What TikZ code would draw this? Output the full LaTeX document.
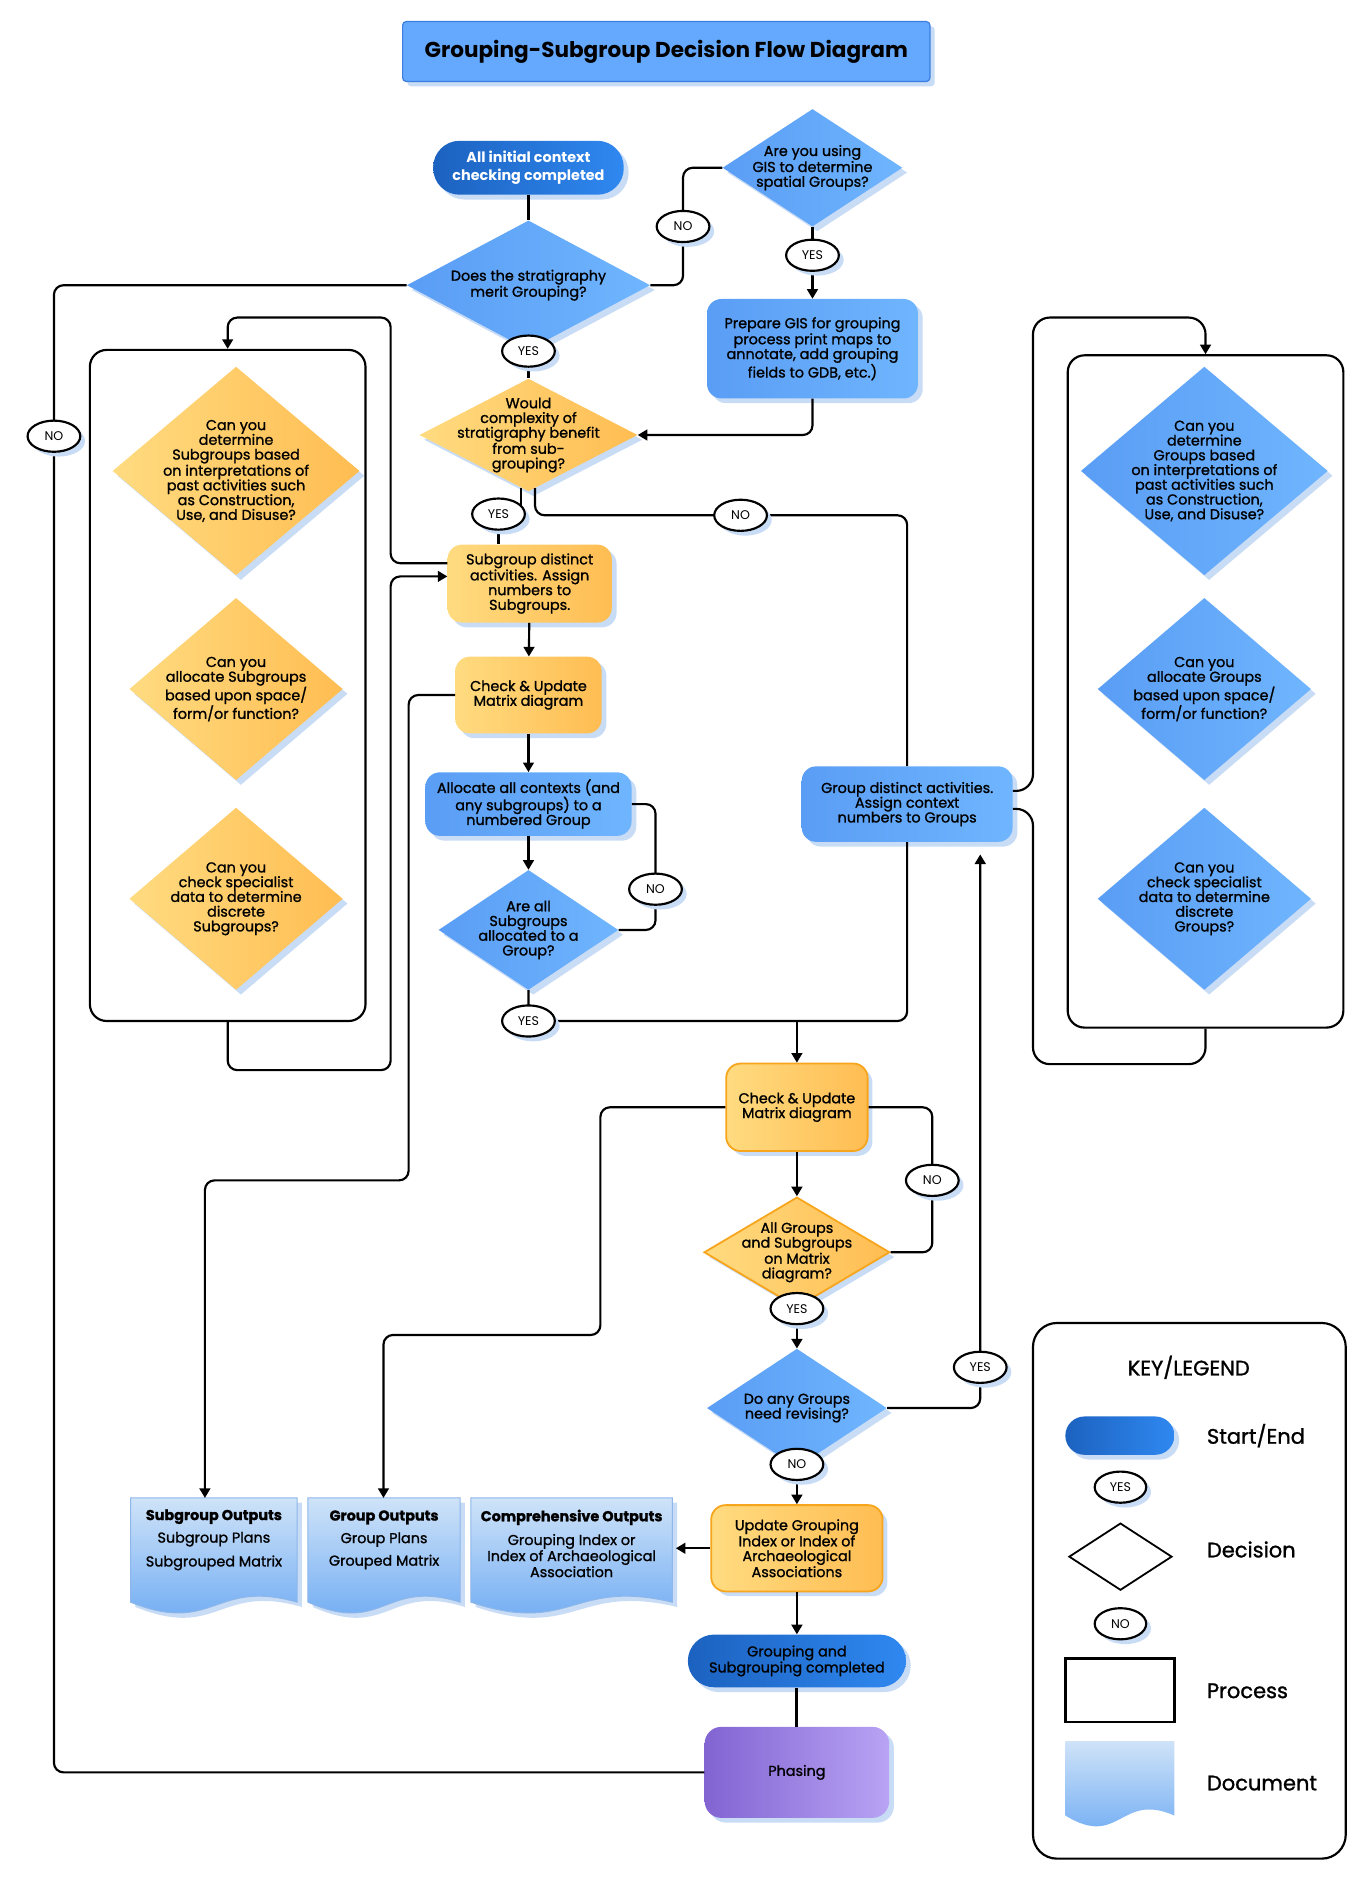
\documentclass[tikz,border=0pt]{standalone}
\usepackage{fontspec}
\setmainfont{Poppins}
\newfontfamily\medfont{Poppins}[FakeBold=1.2]
\usetikzlibrary{shapes.geometric, arrows.meta, shadows}

\definecolor{blueL}{HTML}{5A9DF5}
\definecolor{blueR}{HTML}{6FB5FE}
\definecolor{darkL}{HTML}{1C62C0}
\definecolor{darkR}{HTML}{2F88F0}
\definecolor{yelL}{HTML}{FFDB80}
\definecolor{yelR}{HTML}{FFBD52}
\definecolor{orangeE}{HTML}{F7A51C}
\definecolor{purpL}{HTML}{8264D2}
\definecolor{purpR}{HTML}{B8A3F4}
\definecolor{shadowblue}{HTML}{C8DCF6}
\definecolor{titleblue}{HTML}{64A9FD}
\definecolor{titleedge}{HTML}{3B7EE0}
\definecolor{docT}{HTML}{CFE3F8}
\definecolor{docB}{HTML}{66A6F3}
\definecolor{docE}{HTML}{8DB6EA}

\pgfdeclarelayer{front}
\pgfsetlayers{main,front}

\tikzset{
	sdw/.style={drop shadow={shadow xshift=4pt, shadow yshift=-4pt, fill=shadowblue, opacity=1}},
	txt/.style={align=center, font=\medfont\fontsize{12}{12.3}\selectfont},
	conn/.style={draw, line width=1.8pt, rounded corners=8pt},
	arr/.style={conn, -{Triangle[length=8pt, width=9pt]}},
	titlebox/.style={rectangle, rounded corners=3pt, fill=titleblue, draw=titleedge, line width=1pt, minimum width=440pt, minimum height=50pt, sdw, font=\bfseries\fontsize{18}{20}\selectfont},
	bluebox/.style={rectangle, rounded corners=12pt, left color=blueL, right color=blueR, sdw, txt, inner sep=0pt},
	yellowbox/.style={rectangle, rounded corners=12pt, left color=yelL, right color=yelR, sdw, txt, inner sep=0pt},
	orangebox/.style={yellowbox, draw=orangeE, line width=1.5pt},
	startend/.style={rectangle, rounded corners=22pt, left color=darkL, right color=darkR, sdw, txt, inner sep=0pt},
	phasebox/.style={rectangle, rounded corners=14pt, left color=purpL, right color=purpR, sdw, txt, inner sep=0pt},
	bluedec/.style={diamond, inner sep=-80pt, left color=blueL, right color=blueR, sdw, txt},
	yellowdec/.style={diamond, inner sep=-80pt, left color=yelL, right color=yelR, sdw, txt},
	yesno/.style={ellipse, draw, line width=1.8pt, fill=white, minimum width=44pt, minimum height=26pt, inner sep=0pt, font=\fontsize{10.5}{11}\selectfont, sdw},
	panel/.style={rectangle, draw, line width=1.8pt, rounded corners=14pt},
	doctxt/.style={align=center, font=\medfont\fontsize{12}{12.3}\selectfont},
	keytxt/.style={anchor=west, inner sep=0pt, font=\medfont\fontsize{17.5}{19}\selectfont},
}

\begin{document}
\begin{tikzpicture}[x=1pt, y=-1pt]
	\useasboundingbox (0,0) rectangle (1141,1568);

	\node[titlebox] (title) at (556,43) {Grouping-Subgroup Decision Flow Diagram};

	% start of the flow
	\node[startend, minimum width=159pt, minimum height=45pt, text=white, font=\bfseries\fontsize{12}{15}\selectfont] (start) at (441,140) {All initial context\\checking completed};
	\node[bluedec, minimum width=203pt, minimum height=108pt] (merit) at (441,238) {Does the stratigraphy\\merit Grouping?};
	\node[bluedec, minimum width=150pt, minimum height=98pt] (gis) at (678,140) {Are you using\\GIS to determine\\spatial Groups?};
	\node[bluebox, minimum width=176pt, minimum height=83pt] (prep) at (678,291) {Prepare GIS for grouping\\process print maps to\\annotate, add grouping\\fields to GDB, etc.)};
	\node[yellowdec, minimum width=182pt, minimum height=94pt] (would) at (441,363) {Would\\complexity of\\stratigraphy benefit\\from sub-\\grouping?};

	% subgroups and groups
	\node[yellowbox, minimum width=137pt, minimum height=65pt] (subgrp) at (442,487) {Subgroup distinct\\activities. Assign\\numbers to\\Subgroups.};
	\node[yellowbox, minimum width=122pt, minimum height=64pt] (check1) at (441,580) {Check \& Update\\Matrix diagram};
	\node[bluebox, minimum width=172pt, minimum height=53pt] (alloc) at (441,671) {Allocate all contexts (and\\any subgroups) to a\\numbered Group};
	\node[bluedec, minimum width=150pt, minimum height=100pt] (allsub) at (441,776) {Are all\\Subgroups\\allocated to a\\Group?};
	\node[bluebox, minimum width=176pt, minimum height=63pt] (grp) at (757,671) {Group distinct activities.\\Assign context\\numbers to Groups};

	% question panels
	\node[panel, minimum width=230pt, minimum height=560pt] (lpanel) at (190,572) {};
	\node[panel, minimum width=230pt, minimum height=561pt] (rpanel) at (1006,577) {};
	\node[yellowdec, minimum width=206pt, minimum height=174pt] (lq1) at (197,393) {Can you\\determine\\Subgroups based\\on interpretations of\\past activities such\\as Construction,\\Use, and Disuse?};
	\node[yellowdec, minimum width=178pt, minimum height=152pt] (lq2) at (197,575) {Can you\\allocate Subgroups\\based upon space/\\form/or function?};
	\node[yellowdec, minimum width=178pt, minimum height=152pt] (lq3) at (197,750) {Can you\\check specialist\\data to determine\\discrete\\Subgroups?};
	\node[bluedec, minimum width=206pt, minimum height=174pt] (rq1) at (1005,393) {Can you\\determine\\Groups based\\on interpretations of\\past activities such\\as Construction,\\Use, and Disuse?};
	\node[bluedec, minimum width=178pt, minimum height=152pt] (rq2) at (1005,575) {Can you\\allocate Groups\\based upon space/\\form/or function?};
	\node[bluedec, minimum width=178pt, minimum height=152pt] (rq3) at (1005,750) {Can you\\check specialist\\data to determine\\discrete\\Groups?};

	% lower part
	\node[orangebox, minimum width=118pt, minimum height=73pt] (check2) at (665,924) {Check \& Update\\Matrix diagram};
	\node[yellowdec, draw=orangeE, line width=1.5pt, minimum width=155pt, minimum height=92pt] (allgrp) at (665,1045) {All Groups\\and Subgroups\\on Matrix\\diagram?};
	\node[bluedec, minimum width=150pt, minimum height=99pt] (revise) at (665,1175) {Do any Groups\\need revising?};
	\node[orangebox, minimum width=143pt, minimum height=72pt] (update) at (665,1292) {Update Grouping\\Index or Index of\\Archaeological\\Associations};
	\node[startend, minimum width=182pt, minimum height=44pt] (done) at (665,1386) {Grouping and\\Subgrouping completed};
	\node[phasebox, minimum width=154pt, minimum height=76pt] (phasing) at (665,1479) {Phasing};

	% documents
	\foreach \xa/\xb/\yt/\yb in {109/248/1250/1337, 257/384/1250/1337, 393/561/1250/1337} {
		\fill[shadowblue] (\xa+4,\yt+4) -- (\xb+4,\yt+4) -- (\xb+4,\yb+4) .. controls ({(\xa+\xb)/2+4},\yb-16) and ({(\xa+\xb)/2+4},\yb+32) .. (\xa+4,\yb+4) -- cycle;
		\shade[top color=docT, bottom color=docB, draw=docE, line width=0.8pt] (\xa,\yt) -- (\xb,\yt) -- (\xb,\yb) .. controls ({(\xa+\xb)/2},\yb-20) and ({(\xa+\xb)/2},\yb+28) .. (\xa,\yb) -- cycle;
	}
	\node[doctxt] (doc1) at (178.5,1285) {{\bfseries Subgroup Outputs}\\[6.5pt]Subgroup Plans\\[6.5pt]Subgrouped Matrix};
	\node[doctxt] (doc2) at (320.5,1285) {{\bfseries Group Outputs}\\[6.5pt]Group Plans\\[6.5pt]Grouped Matrix};
	\node[doctxt] (doc3) at (477,1288) {{\bfseries Comprehensive Outputs}\\[6.5pt]Grouping Index or\\Index of Archaeological\\Association};
	\coordinate (doc1top) at (171,1250);
	\coordinate (doc2top) at (320,1250);
	\coordinate (doc3side) at (564,1292);
	\coordinate (grpin) at (818,713);

	% legend
	\node[panel, line width=1.8pt, rounded corners=20pt, minimum width=261pt, minimum height=447pt] (legend) at (992.5,1327.5) {};
	\node[font=\medfont\fontsize{17.5}{19}\selectfont] (keytitle) at (992,1141) {KEY/LEGEND};
	\node[startend, minimum width=91pt, minimum height=32pt, rounded corners=16pt, drop shadow={opacity=0}] (keystart) at (934.5,1198) {};
	\node[keytxt] (keystartlbl) at (1007,1198) {Start/End};
	\node[diamond, draw, line width=1.5pt, inner sep=0pt, minimum width=86pt, minimum height=56pt] (keydec) at (935,1299) {};
	\node[keytxt] (keydeclbl) at (1007,1293) {Decision};
	\node[rectangle, draw, line width=2pt, minimum width=91pt, minimum height=53pt] (keyproc) at (934.5,1410.5) {};
	\node[keytxt] (keyproclbl) at (1007,1411) {Process};
	\shade[top color=docT, bottom color=docB] (889,1453) -- (980,1453) -- (980,1515) .. controls (934.5,1495) and (934.5,1543) .. (889,1515) -- cycle;
	\node[keytxt] (keydoclbl) at (1007,1488) {Document};

	% yes / no tags
	\begin{pgfonlayer}{front}
		\node[yesno] (no1) at (570,189) {NO};
		\node[yesno] (yes1) at (678,213) {YES};
		\node[yesno] (yes2) at (441,293) {YES};
		\node[yesno] (no2) at (45,364) {NO};
		\node[yesno] (yes3) at (416,429) {YES};
		\node[yesno] (no3) at (618,430) {NO};
		\node[yesno] (no4) at (547,742) {NO};
		\node[yesno] (yes4) at (441,852) {YES};
		\node[yesno] (no5) at (778,985) {NO};
		\node[yesno] (yes5) at (665,1092) {YES};
		\node[yesno] (yes6) at (818,1141) {YES};
		\node[yesno] (no6) at (665,1222) {NO};
		\node[yesno, minimum width=43pt] (keyyes) at (935,1241) {YES};
		\node[yesno, minimum width=43pt] (keyno) at (935,1355) {NO};
	\end{pgfonlayer}

	% connectors
	\draw[conn] (start) -- (merit);
	\draw[conn] (merit.east) -| (no1.center) |- (gis.west);
	\draw[arr] (gis.south) -- (prep.north);
	\draw[arr] (prep.south) |- (would.east);
	\draw[conn] (merit.south) -- (would.north);
	\draw[conn] (would.262) -- (would.262 |- yes3.center);
	\draw[conn] (yes3.center) -- (yes3.center |- subgrp.north);
	\draw[conn] (would.277) |- (no3.center) -| (grp.north);
	\draw[arr] (subgrp) -- (check1);
	\draw[arr] (check1) -- (alloc);
	\draw[arr] (alloc) -- (allsub.north);
	\draw[conn] (alloc.east) -| (no4.center) |- (allsub.east);
	\draw[conn] (allsub.south) -- (yes4.center) -| (grp.south);
	\draw[arr] (yes4.center -| check2.north) -- (check2.north);
	\draw[arr] ([yshift=17pt]subgrp.west) -| (326,265) -| (lpanel.north);
	\draw[arr] (lpanel.south) |- (326,893) |- ([yshift=6pt]subgrp.west);
	\draw[conn] (merit.west) -| (no2.center) |- (phasing.west);
	\draw[arr] (check1.west) -| (341,985) -| (doc1top);
	\draw[arr] (check2.west) -| (501,1114) -| (doc2top);
	\draw[conn] (check2.east) -| (no5.center) |- (allgrp.east);
	\draw[arr] (check2.south) -- (allgrp.north);
	\draw[conn] (allgrp.south) -- (yes5.center);
	\draw[arr] (yes5.center) -- (revise.north);
	\draw[arr] (revise.east) -| (grpin);
	\draw[arr] (revise.south) -- (update.north);
	\draw[arr] (update.west) -- (doc3side);
	\draw[arr] (update.south) -- (done.north);
	\draw[conn, line width=2.6pt] (done.south) -- (phasing.north);
	\draw[arr, rounded corners=14pt] ([yshift=11pt]grp.east) -| (862,265) -| (rpanel.north);
	\draw[conn, rounded corners=14pt] ([yshift=-4pt]grp.east) -| (862,888) -| (rpanel.south);
\end{tikzpicture}
\end{document}
